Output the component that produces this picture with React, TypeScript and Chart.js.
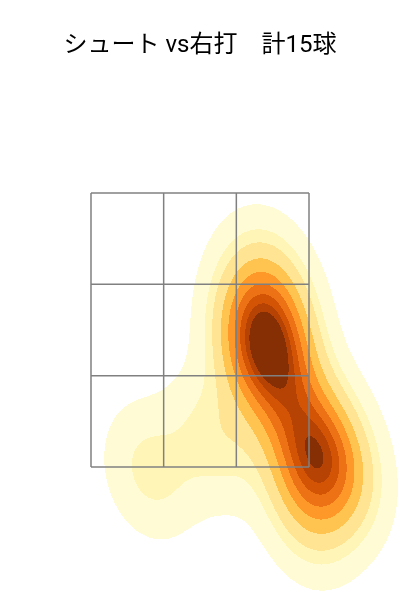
import { useEffect, useRef } from "react";
import { Chart, registerables } from "chart.js";

Chart.register(...registerables);

const TITLE = "シュート vs右打　計15球";

// pitch locations (feet): horizontal (catcher view) and height
const pitchX = [0.46, 0.55, 0.43, 0.53, 0.47, 0.62, 0.82, 0.87, 0.85, 0.53, -0.38, 0.82, 1.1, 0.11, 0.96];
const pitchY = [2.61, 2.53, 2.41, 2.32, 2.21, 2.14, 1.66, 1.57, 1.48, 2.86, 1.47, 1.14, 1.41, 1.7, 1.76];

// strike zone grid edges (feet)
const zoneX = [-0.83, -0.2767, 0.2767, 0.83];
const zoneY = [1.5, 2.1667, 2.8333, 3.5];

const LEVELS = 10;
const THRESH = 0.05;
const GRID = 200;
const CUT = 3;
const YLORBR = ["#ffffe5", "#fff7bc", "#fee391", "#fec44f", "#fe9929", "#ec7014", "#cc4c02", "#993404", "#662506"];

const X_MIN = -1.5229;
const X_MAX = 1.5229;
const Y_MIN = 0.5292;
const Y_MAX = 4.3905;

function hexToRgb(h: string) {
  return [parseInt(h.slice(1, 3), 16), parseInt(h.slice(3, 5), 16), parseInt(h.slice(5, 7), 16)];
}

function cmap(t: number) {
  const c = Math.max(0, Math.min(1, t)) * (YLORBR.length - 1);
  const i = Math.min(YLORBR.length - 2, Math.floor(c));
  const f = c - i;
  const a = hexToRgb(YLORBR[i]);
  const b = hexToRgb(YLORBR[i + 1]);
  return [0, 1, 2].map((k) => Math.round(a[k] + (b[k] - a[k]) * f));
}

function makeKde(xs: number[], ys: number[]) {
  const n = xs.length;
  const mx = xs.reduce((s, v) => s + v, 0) / n;
  const my = ys.reduce((s, v) => s + v, 0) / n;
  let cxx = 0, cyy = 0, cxy = 0;
  for (let i = 0; i < n; i++) {
    const dx = xs[i] - mx, dy = ys[i] - my;
    cxx += dx * dx; cyy += dy * dy; cxy += dx * dy;
  }
  cxx /= n - 1; cyy /= n - 1; cxy /= n - 1;
  const f2 = Math.pow(n, -2 / 6);
  const a = cxx * f2, b = cxy * f2, d = cyy * f2;
  const det = a * d - b * b;
  const ia = d / det, ib = -b / det, id = a / det;
  const norm = 1 / (2 * Math.PI * Math.sqrt(det) * n);
  const f = (x: number, y: number) => {
    let s = 0;
    for (let i = 0; i < n; i++) {
      const dx = x - xs[i], dy = y - ys[i];
      s += Math.exp(-0.5 * (ia * dx * dx + 2 * ib * dx * dy + id * dy * dy));
    }
    return s * norm;
  };
  return { f, bwX: Math.sqrt(a), bwY: Math.sqrt(d) };
}

function computeLevels(kde: ReturnType<typeof makeKde>, xs: number[], ys: number[]) {
  const x0 = Math.min(...xs) - CUT * kde.bwX, x1 = Math.max(...xs) + CUT * kde.bwX;
  const y0 = Math.min(...ys) - CUT * kde.bwY, y1 = Math.max(...ys) + CUT * kde.bwY;
  const vals: number[] = [];
  for (let i = 0; i < GRID; i++) {
    const gx = x0 + ((x1 - x0) * i) / (GRID - 1);
    for (let j = 0; j < GRID; j++) {
      const gy = y0 + ((y1 - y0) * j) / (GRID - 1);
      vals.push(kde.f(gx, gy));
    }
  }
  vals.sort((p, q) => q - p);
  const total = vals.reduce((s, v) => s + v, 0);
  const cum: number[] = [];
  let acc = 0;
  for (const v of vals) { acc += v; cum.push(acc / total); }
  const levels: number[] = [];
  for (let k = 0; k < LEVELS; k++) {
    const iso = THRESH + ((1 - THRESH) * k) / (LEVELS - 1);
    const target = 1 - iso;
    let lo = 0, hi = cum.length;
    while (lo < hi) { const m = (lo + hi) >> 1; if (cum[m] < target) lo = m + 1; else hi = m; }
    levels.push(vals[Math.min(lo, vals.length - 1)]);
  }
  return levels;
}

const densityPlugin = {
  id: "kdeFill",
  beforeDatasetsDraw(chart: any) {
    const { ctx, chartArea, scales } = chart;
    const kde = makeKde(pitchX, pitchY);
    const levels = computeLevels(kde, pitchX, pitchY);
    const l0 = levels[0], lN = levels[levels.length - 1];
    const colors: number[][] = [];
    for (let i = 0; i < levels.length - 1; i++) {
      const mid = 0.5 * (levels[i] + levels[i + 1]);
      colors.push(cmap((mid - l0) / (lN - l0)));
    }
    const left = Math.round(chartArea.left), top = Math.round(chartArea.top);
    const w = Math.round(chartArea.right) - left, h = Math.round(chartArea.bottom) - top;
    const img = ctx.getImageData(left, top, w, h);
    const data = img.data;
    for (let py = 0; py < h; py++) {
      const yv = scales.y.getValueForPixel(top + py + 0.5);
      for (let px = 0; px < w; px++) {
        const xv = scales.x.getValueForPixel(left + px + 0.5);
        const v = kde.f(xv, yv);
        if (v <= l0) continue;
        let band = 0;
        while (band < levels.length - 2 && v > levels[band + 1]) band++;
        const c = colors[band];
        const o = (py * w + px) * 4;
        data[o] = c[0]; data[o + 1] = c[1]; data[o + 2] = c[2]; data[o + 3] = 255;
      }
    }
    ctx.putImageData(img, left, top);
  },
};

export default function App() {
  const ref = useRef<HTMLCanvasElement>(null);
  useEffect(() => {
    if (!ref.current) return;
    const datasets: any[] = [];
    for (const x of zoneX) {
      datasets.push({ data: [{ x, y: zoneY[0] }, { x, y: zoneY[zoneY.length - 1] }] });
    }
    for (const y of zoneY) {
      datasets.push({ data: [{ x: zoneX[0], y }, { x: zoneX[zoneX.length - 1], y }] });
    }
    datasets.forEach((d) => {
      d.showLine = true;
      d.pointRadius = 0;
      d.borderColor = "#808080";
      d.borderWidth = 1.5;
      d.fill = false;
    });
    const chart = new Chart(ref.current, {
      type: "scatter",
      data: { datasets },
      options: {
        animation: false,
        responsive: false,
        events: [],
        layout: { padding: 0 },
        plugins: {
          legend: { display: false },
          tooltip: { enabled: false },
          title: {
            display: true,
            text: TITLE,
            color: "#000000",
            font: { family: "Roboto, 'Noto Sans CJK JP', sans-serif", size: 24, weight: "normal", lineHeight: 1.2 },
            padding: { top: 32, bottom: 10.2 },
          },
        },
        scales: {
          x: { type: "linear", min: X_MIN, max: X_MAX, display: false },
          y: { type: "linear", min: Y_MIN, max: Y_MAX, display: false },
        },
      },
      plugins: [densityPlugin],
    });
    return () => chart.destroy();
  }, []);
  return (
    <div style={{ position: "absolute", left: 0, top: 0, width: 400, height: 600, background: "#fff" }}>
      <canvas ref={ref} width={400} height={600} style={{ display: "block" }} />
    </div>
  );
}
